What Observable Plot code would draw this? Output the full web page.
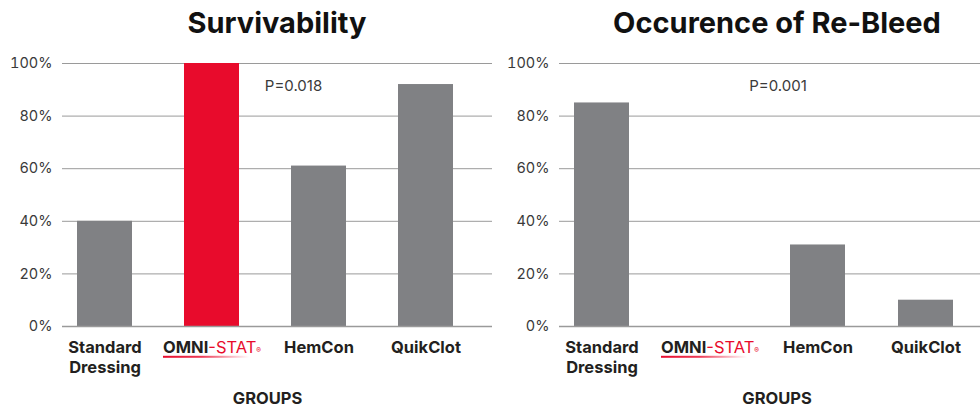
<!DOCTYPE html>
<html>
<head>
<meta charset="utf-8">
<script src="https://cdn.jsdelivr.net/npm/d3@7"></script>
<script src="https://cdn.jsdelivr.net/npm/@observablehq/plot@0.6"></script>
<style>
  html, body { margin: 0; padding: 0; background: #fff; }
  #wrap { position: relative; width: 980px; height: 410px; overflow: hidden; font-family: Inter, "Open Sans", sans-serif; }
  .panel { position: absolute; top: 0; }
  .title { height: 48px; line-height: 46px; font-size: 29px; font-weight: 700; color: #111; text-align: center; white-space: nowrap; box-sizing: border-box; }
  svg { display: block; }
</style>
</head>
<body>
<div id="wrap">
  <div class="panel" id="p1" style="left:0;width:500px"><div class="title" style="padding-left:62px;padding-right:8px">Survivability</div></div>
  <div class="panel" id="p2" style="left:500px;width:480px"><div class="title" style="padding-left:74px;padding-right:0">Occurence of Re-Bleed</div></div>
</div>
<script>
// ---- data ----
const groups = ["Standard Dressing", "OMNI-STAT", "HemCon", "QuikClot"];
const groupLabels = ["Standard\nDressing", "OMNI-STAT", "HemCon", "QuikClot"];
const survivability = [40, 100, 61, 92];
const rebleed = [85, 0, 31, 10];
const yTicks = [0, 20, 40, 60, 80, 100];
const pValues = ["P=0.018", "P=0.001"];
const axisTitle = "GROUPS";

const GRAY = "#808184";
const RED = "#e80b2c";
const LINE = "#9a9a9a";
const FONT = "Inter, 'Open Sans', sans-serif";

function chart(values, opts) {
  const rows = groups.map((g, i) => ({group: g, value: values[i]}));
  const svg = Plot.plot({
    width: opts.width,
    height: 362,
    marginTop: 15,
    marginBottom: 84,
    marginLeft: opts.marginLeft,
    marginRight: opts.marginRight,
    style: {fontFamily: FONT, background: "white", overflow: "visible"},
    x: {type: "band", domain: groups, paddingInner: 0.49, paddingOuter: opts.paddingOuter, align: opts.align, axis: null},
    y: {domain: [0, 100], axis: null},
    color: {type: "identity"},
    marks: [
      Plot.gridY(yTicks, {stroke: LINE, strokeOpacity: 1, strokeWidth: 1}),
      Plot.barY(rows, {x: "group", y: "value", fill: d => d.group === "OMNI-STAT" ? RED : GRAY}),
      Plot.ruleY([0], {stroke: LINE, strokeWidth: 1.5}),
      Plot.axisY({ticks: yTicks, tickFormat: d => d + "%", tickSize: 0, tickPadding: 10, line: true, stroke: LINE,
        fontSize: 14.5, fontWeight: 400, fill: "#3a3a3a", label: null}),
      Plot.axisX({tickSize: 0, tickPadding: 12, fontSize: 16.5, fontWeight: 700, fill: "#231f20", lineHeight: 1.22,
        tickFormat: d => groupLabels[groups.indexOf(d)], label: null}),
      Plot.text([opts.p], {frameAnchor: "top", dx: opts.pdx, dy: 23, fontSize: 15, fill: "#3a3a3a", fontWeight: 400, lineAnchor: "middle"}),
      Plot.text([axisTitle], {frameAnchor: "bottom", dx: opts.gdx, dy: 72, fontSize: 16.5, fontWeight: 700, fill: "#231f20", lineAnchor: "middle"})
    ]
  });
  return svg;
}

function styleOmni(svg, idx) {
  const ns = "http://www.w3.org/2000/svg";
  const texts = Array.from(svg.querySelectorAll("text")).filter(t => t.textContent === "OMNI-STAT");
  texts.forEach(t => {
    const target = t.querySelector("tspan") || t;
    target.textContent = "";
    const a = document.createElementNS(ns, "tspan");
    a.textContent = "OMNI"; a.setAttribute("fill", "#231f20"); a.setAttribute("font-weight", "700");
    const b = document.createElementNS(ns, "tspan");
    b.textContent = "-STAT"; b.setAttribute("fill", RED); b.setAttribute("font-weight", "400");
    const c = document.createElementNS(ns, "tspan");
    c.textContent = "®"; c.setAttribute("fill", RED); c.setAttribute("font-size", "7");
    target.appendChild(a); target.appendChild(b); target.appendChild(c);
    // underline gradient under "OMNI"
    const bb = t.getBBox();
    const wOmni = a.getComputedTextLength();
    const gid = "omniGrad" + idx;
    const defs = document.createElementNS(ns, "defs");
    defs.innerHTML = `<linearGradient id="${gid}" x1="0" x2="1" y1="0" y2="0"><stop offset="0" stop-color="${RED}" stop-opacity="1"/><stop offset="0.45" stop-color="${RED}" stop-opacity="0.8"/><stop offset="1" stop-color="${RED}" stop-opacity="0"/></linearGradient>`;
    svg.appendChild(defs);
    const g = document.createElementNS(ns, "g");
    const tr = t.getAttribute("transform");
    if (tr) g.setAttribute("transform", tr);
    const r = document.createElementNS(ns, "rect");
    r.setAttribute("x", bb.x);
    r.setAttribute("y", bb.y + bb.height - 1);
    r.setAttribute("width", wOmni * 1.9);
    r.setAttribute("height", 2);
    r.setAttribute("fill", `url(#${gid})`);
    g.appendChild(r);
    t.parentNode.appendChild(g);
  });
}

const s1 = chart(survivability, {width: 500, marginLeft: 62, marginRight: 8, paddingOuter: 0.245, align: 0.28, p: pValues[0], pdx: 16, gdx: -10});
document.getElementById("p1").appendChild(s1);
styleOmni(s1, 1);
const s2 = chart(rebleed, {width: 480, marginLeft: 59, marginRight: 0, paddingOuter: 0.194, align: 0.358, p: pValues[1], pdx: 8, gdx: 7});
document.getElementById("p2").appendChild(s2);
styleOmni(s2, 2);
</script>
</body>
</html>
